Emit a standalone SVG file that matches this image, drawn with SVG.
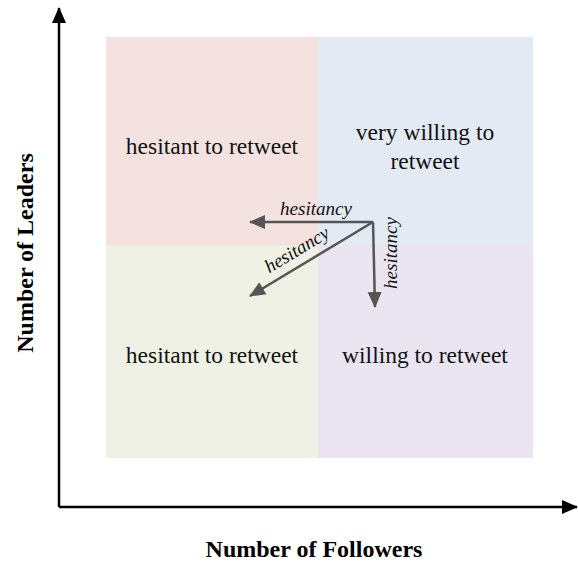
<svg xmlns="http://www.w3.org/2000/svg" width="578" height="565" viewBox="0 0 578 565">
<defs>
<style>
.q{font-family:"Liberation Serif","Times New Roman",serif;font-size:23.5px;fill:#111;text-anchor:middle}
.h{font-family:"Liberation Serif","Times New Roman",serif;font-size:19px;font-style:italic;fill:#111;text-anchor:middle}
.ax{font-family:"Liberation Serif","Times New Roman",serif;font-size:24px;font-weight:bold;fill:#000;text-anchor:middle}
.axis{stroke:#000;stroke-width:2.5;fill:none}
.ha{stroke:#555;stroke-width:2.5;fill:none}
</style>
<marker id="ak" markerWidth="16" markerHeight="16" viewBox="0 0 16 16" refX="15" refY="8" orient="auto" markerUnits="userSpaceOnUse"><path d="M0,1 L16,8 L0,15 Z" fill="#000"/></marker>
<marker id="ag" markerWidth="16" markerHeight="16" viewBox="0 0 16 16" refX="15" refY="8" orient="auto" markerUnits="userSpaceOnUse"><path d="M0,1 L16,8 L0,15 Z" fill="#555"/></marker>
</defs>
<g id="q-top-left"><rect x="106" y="37" width="212" height="208" fill="#f4e2e0"/><text class="q" x="212" y="154">hesitant to retweet</text></g>
<g id="q-top-right"><rect x="318" y="37" width="215" height="208" fill="#e3eaf4"/><text class="q" x="425" y="140">very willing to</text><text class="q" x="425" y="169">retweet</text></g>
<g id="q-bottom-left"><rect x="106" y="245" width="212" height="213" fill="#eef1e4"/><text class="q" x="212" y="363">hesitant to retweet</text></g>
<g id="q-bottom-right"><rect x="318" y="245" width="215" height="213" fill="#ebe5f1"/><text class="q" x="425" y="363">willing to retweet</text></g>
<g id="connectors">
<path class="axis" d="M59,507 L59,8" marker-end="url(#ak)"/>
<path class="axis" d="M59,507 L577,507" marker-end="url(#ak)"/>
<path class="ha" d="M373,222 L250,222" marker-end="url(#ag)"/>
<path class="ha" d="M373,222 L250,296" marker-end="url(#ag)"/>
<path class="ha" d="M373,222 L375,307" marker-end="url(#ag)"/>
</g>
<g id="labels">
<text class="h" x="316" y="215">hesitancy</text>
<text class="h" transform="translate(300,255) rotate(-31)" x="0" y="0">hesitancy</text>
<text class="h" transform="translate(397,253) rotate(-90)" x="0" y="0">hesitancy</text>
<text class="ax" x="314" y="557">Number of Followers</text>
<text class="ax" transform="translate(33,253) rotate(-90)" x="0" y="0">Number of Leaders</text>
</g>
</svg>
